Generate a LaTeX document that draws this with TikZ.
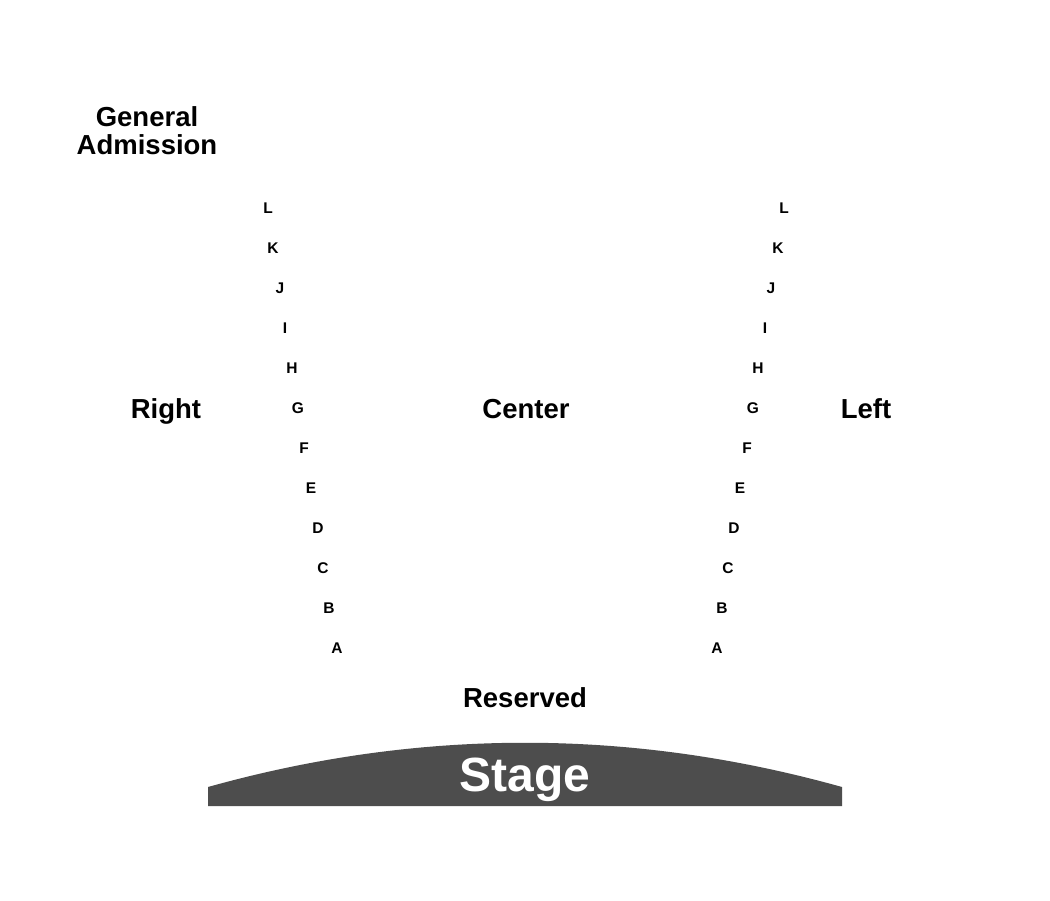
\documentclass[tikz,border=0pt]{standalone}
\usepackage{fontspec}
\setmainfont{Liberation Sans}
\definecolor{stagegray}{HTML}{4D4D4D}
\begin{document}
\begin{tikzpicture}[x=1pt,y=-1pt,
  big/.style={font=\bfseries\fontsize{27.5}{28}\selectfont, inner sep=0pt, anchor=base},
  rowlbl/.style={font=\bfseries\fontsize{15.5}{16}\selectfont, inner sep=0pt, anchor=base},
  stagetxt/.style={font=\bfseries\fontsize{48}{50}\selectfont, text=white, inner sep=0pt, anchor=base}]
\useasboundingbox (0,0) rectangle (1050,900);
\fill[white] (0,0) rectangle (1050,900);
% stage
\fill[stagegray] (208,806) -- (208,787) .. controls (419,728) and (631,728) .. (842,787) -- (842,806) -- cycle;
\node[stagetxt] (stage) at (525,791) {Stage};
% section labels
\node[big] (ga1) at (147,126) {General};
\node[big] (ga2) at (147,154) {Admission};
\node[big] (right) at (166,418) {Right};
\node[big] (center) at (526,418) {Center};
\node[big] (left) at (866,418) {Left};
\node[big] (reserved) at (525,707) {Reserved};
% row letters, left column
\foreach \l/\x [count=\i from 0] in {L/268,K/273,J/280,I/285,H/292,G/298,F/304,E/311,D/318,C/323,B/329,A/337}
  \node[rowlbl] (r\l) at (\x,{213.5+40*\i}) {\l};
% row letters, right column
\foreach \l/\x [count=\i from 0] in {L/784,K/778,J/771,I/765,H/758,G/753,F/747,E/740,D/734,C/728,B/722,A/717}
  \node[rowlbl] (l\l) at (\x,{213.5+40*\i}) {\l};
\end{tikzpicture}
\end{document}
